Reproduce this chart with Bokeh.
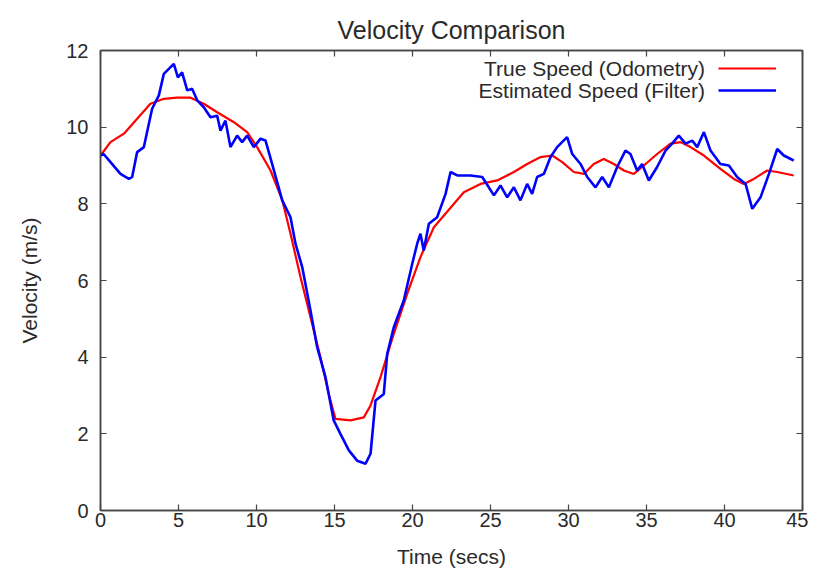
from bokeh.plotting import figure
from bokeh.models import (ColumnDataSource, LinearAxis, Range1d, Label, Legend,
                          LegendItem, FixedTicker)
from bokeh.embed import file_html
from bokeh.resources import INLINE

# ---------------- data ----------------
true_t = [0.0, 0.64, 1.5, 2.35, 3.2, 4.06, 4.9, 5.77, 6.62, 7.48, 8.55, 9.4,
          10.04, 10.9, 11.65, 12.18, 12.82, 13.46, 14.1, 14.63, 15.06, 16.03,
          16.88, 17.31, 17.95, 18.8, 19.66, 20.51, 21.37, 22.44, 23.29, 24.36,
          25.43, 26.5, 27.35, 28.21, 28.96, 29.6, 30.34, 30.98, 31.62, 32.26,
          32.91, 33.55, 34.19, 34.83, 35.68, 36.54, 37.18, 37.82, 38.68, 39.74,
          40.6, 41.24, 41.88, 42.74, 43.38, 44.44]
true_v = [9.26, 9.61, 9.83, 10.22, 10.61, 10.74, 10.77, 10.77, 10.61, 10.39,
          10.13, 9.87, 9.48, 8.87, 8.1, 7.22, 6.09, 5.04, 4.0, 3.04, 2.39, 2.35,
          2.43, 2.74, 3.48, 4.61, 5.65, 6.61, 7.39, 7.9, 8.3, 8.52, 8.61, 8.83,
          9.04, 9.22, 9.26, 9.09, 8.83, 8.78, 9.04, 9.17, 9.04, 8.87, 8.78, 9.0,
          9.3, 9.57, 9.61, 9.48, 9.26, 8.91, 8.65, 8.52, 8.65, 8.87, 8.83, 8.74]

est_t = [0.0, 0.2, 0.64, 1.28, 1.82, 2.03, 2.35, 2.78, 3.1, 3.31, 3.74, 4.06,
         4.38, 4.7, 4.96, 5.23, 5.56, 5.87, 6.2, 6.62, 7.05, 7.48, 7.69, 8.01,
         8.33, 8.76, 9.08, 9.4, 9.83, 10.26, 10.58, 11.0, 11.65, 12.18, 12.5,
         12.93, 13.46, 13.89, 14.42, 14.95, 15.38, 15.92, 16.45, 16.99, 17.31,
         17.63, 18.16, 18.38, 18.8, 19.44, 19.98, 20.3, 20.51, 20.72, 21.05,
         21.58, 22.12, 22.44, 22.87, 23.72, 24.47, 25.22, 25.64, 26.07, 26.5,
         26.92, 27.35, 27.67, 27.99, 28.42, 28.85, 29.27, 29.91, 30.24, 30.77,
         31.2, 31.73, 32.16, 32.59, 33.12, 33.65, 33.97, 34.4, 34.72, 35.15,
         35.68, 36.22, 36.64, 37.07, 37.5, 37.93, 38.25, 38.68, 39.1, 39.74,
         40.28, 40.81, 41.35, 41.78, 42.31, 42.85, 43.38, 43.8, 44.44]
est_v = [9.26, 9.3, 9.09, 8.78, 8.65, 8.7, 9.35, 9.48, 10.09, 10.48, 10.83,
         11.39, 11.52, 11.65, 11.3, 11.43, 10.96, 11.0, 10.7, 10.52, 10.26,
         10.3, 9.91, 10.17, 9.48, 9.78, 9.61, 9.78, 9.48, 9.7, 9.65, 9.04, 8.09,
         7.65, 6.96, 6.35, 5.22, 4.26, 3.48, 2.35, 2.0, 1.57, 1.3, 1.22, 1.48,
         2.87, 3.04, 4.09, 4.78, 5.48, 6.43, 6.96, 7.22, 6.78, 7.48, 7.65, 8.26,
         8.83, 8.74, 8.74, 8.7, 8.22, 8.48, 8.17, 8.43, 8.09, 8.52, 8.26, 8.7,
         8.78, 9.22, 9.48, 9.74, 9.3, 9.04, 8.7, 8.43, 8.7, 8.43, 8.96, 9.39,
         9.3, 8.87, 9.04, 8.61, 8.96, 9.39, 9.57, 9.78, 9.57, 9.65, 9.48, 9.87,
         9.39, 9.04, 9.0, 8.7, 8.52, 7.87, 8.17, 8.78, 9.43, 9.26, 9.13]

x_ticks = [0, 5, 10, 15, 20, 25, 30, 35, 40, 45]
y_ticks = [0, 2, 4, 6, 8, 10, 12]
series_names = ["True Speed (Odometry)", "Estimated Speed (Filter)"]
series_colors = ["#ff0000", "#0000ff"]
title_text = "Velocity Comparison"

FONT = "Liberation Sans"
TXT = "#2a2a2a"

p = figure(width=808, height=571, output_backend="svg", toolbar_location=None,
           x_range=Range1d(0, 45), y_range=Range1d(0, 12),
           min_border_left=100, min_border_right=6, min_border_top=50,
           min_border_bottom=61, title=title_text)
p.grid.visible = False
p.outline_line_color = "#444444"
p.outline_line_width = 1.5
p.background_fill_color = "white"
p.border_fill_color = "white"

p.title.text_font = FONT
p.title.text_font_size = "25px"
p.title.text_font_style = "normal"
p.title.text_color = TXT
p.title.text_line_height = 1.0
p.title.align = "center"
p.title.vertical_align = "top"
p.title.offset = 0
p.title.standoff = 10

src_true = ColumnDataSource(dict(t=true_t, v=true_v))
src_est = ColumnDataSource(dict(t=est_t, v=est_v))
r_true = p.line("t", "v", source=src_true, line_color=series_colors[0], line_width=2.2)
r_est = p.line("t", "v", source=src_est, line_color=series_colors[1], line_width=2.6)

def style_axis(ax, ticks, show_labels):
    ax.ticker = FixedTicker(ticks=ticks)
    ax.major_tick_in = 6
    ax.major_tick_out = 0
    ax.minor_tick_in = 0
    ax.minor_tick_out = 0
    ax.axis_line_color = "#444444"
    ax.axis_line_width = 1.5
    ax.major_tick_line_color = "#444444"
    ax.major_tick_line_width = 1.2
    ax.major_label_text_font = FONT
    ax.major_label_text_color = TXT
    ax.axis_label_text_font = FONT
    ax.axis_label_text_font_style = "normal"
    ax.axis_label_text_color = TXT
    if show_labels:
        ax.major_label_text_font_size = "20px"
        ax.axis_label_text_font_size = "21px"
    else:
        ax.major_label_overrides = {t: "" for t in ticks}
        ax.major_label_text_font_size = "1px"
        ax.major_label_standoff = 0

xa = p.xaxis[0]
ya = p.yaxis[0]
style_axis(xa, x_ticks, True)
style_axis(ya, y_ticks, True)
xa.axis_label = "Time (secs)"
ya.axis_label = "Velocity (m/s)"
xa.major_label_standoff = 2
xa.axis_label_standoff = 15
ya.major_label_standoff = 12
ya.axis_label_standoff = 22

top = LinearAxis()
right = LinearAxis()
style_axis(top, x_ticks, False)
style_axis(right, y_ticks, False)
p.add_layout(top, "above")
p.add_layout(right, "right")

# legend: line samples via Legend, text via right-aligned labels
leg = Legend(items=[LegendItem(label=" ", renderers=[r_true]),
                    LegendItem(label=" ", renderers=[r_est])],
             location=(618, 410), orientation="vertical",
             glyph_width=58, glyph_height=20, spacing=2, padding=0, margin=0,
             label_width=0, label_standoff=0, label_text_font_size="1px",
             border_line_color=None, background_fill_alpha=0)
p.add_layout(leg, "center")

for name, yy in zip(series_names, [11.53, 10.96]):
    p.add_layout(Label(x=38.75, y=yy, text=name, text_align="right",
                       text_baseline="middle", text_font=FONT,
                       text_font_size="21px", text_color=TXT))

open("out.html", "w").write(file_html(p, INLINE))
